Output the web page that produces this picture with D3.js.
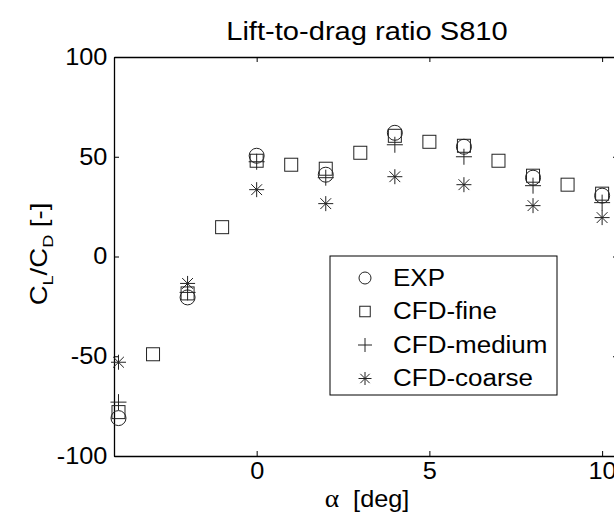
<!DOCTYPE html>
<html>
<head>
<meta charset="utf-8">
<script src="https://cdn.jsdelivr.net/npm/d3@7"></script>
<style>
  body { margin: 0; background: #fff; }
  text { font-family: "Liberation Sans", Arial, sans-serif; fill: #000; }
</style>
</head>
<body>
<div id="chart"></div>
<script>
// angles of attack
var alphaFine = [-4, -3, -2, -1, 0, 1, 2, 3, 4, 5, 6, 7, 8, 9, 10];
var alphaEven = [-4, -2, 0, 2, 4, 6, 8, 10];

// lift-to-drag ratio
var expVals    = [-81, -20.5, 50.5, 41, 62, 55, 39.5, 30.5];
var fineVals   = [-78, -49, -18.5, 14.7, 48, 46, 44, 52, 60.5, 57.5, 55.5, 48, 40.5, 36, 31.5];
var mediumVals = [-73, -18, 47.5, 39.5, 56, 50, 35.5, 27];
var coarseVals = [-53, -13.5, 33.5, 26.5, 40, 36, 25.5, 19.5];

var xTicks = [0, 5, 10];
var yTicks = [-100, -50, 0, 50, 100];
var seriesNames = ["EXP", "CFD-fine", "CFD-medium", "CFD-coarse"];

var W = 614, H = 518;
var sx = 1.1; // text looks a bit wider than normal

var svg = d3.select("#chart").append("svg")
  .attr("width", W).attr("height", H);
svg.append("rect").attr("width", W).attr("height", H).attr("fill", "#fff");

var x = d3.scaleLinear().domain([-4.13, 10.46]).range([114, 618]);
var y = d3.scaleLinear().domain([-100, 100]).range([456, 57]);

var fmt = function(d) { return String(d); };

// axes, MATLAB style ticks pointing inwards
svg.append("g").attr("transform", "translate(0," + y(-100) + ")")
  .call(d3.axisBottom(x).tickValues(xTicks).tickSizeInner(-5).tickSizeOuter(0).tickPadding(7).tickFormat(fmt));
svg.append("g").attr("transform", "translate(0," + y(100) + ")")
  .call(d3.axisTop(x).tickValues(xTicks).tickSizeInner(-5).tickSizeOuter(0).tickFormat(""));
svg.append("g").attr("transform", "translate(" + x(-4.13) + ",0)")
  .call(d3.axisLeft(y).tickValues(yTicks).tickSizeInner(-5).tickSizeOuter(0).tickPadding(6).tickFormat(fmt));
svg.append("g").attr("transform", "translate(" + x(10.46) + ",0)")
  .call(d3.axisRight(y).tickValues(yTicks).tickSizeInner(-5).tickSizeOuter(0).tickFormat(""));

svg.selectAll(".domain").attr("stroke", "#000").attr("stroke-width", 1.3);
svg.selectAll(".tick line").attr("stroke", "#000").attr("stroke-width", 1);
svg.selectAll(".tick text")
  .style("font-family", "'Liberation Sans', Arial, sans-serif")
  .attr("font-size", 23)
  .attr("fill", "#000")
  .attr("transform", "scale(" + sx + ",1)");

// marker drawing helpers
function circleM(g, r) {
  g.append("circle").attr("r", r).attr("fill", "none").attr("stroke", "#222").attr("stroke-width", 1);
}
function squareM(g, s) {
  g.append("rect").attr("x", -s / 2).attr("y", -s / 2).attr("width", s).attr("height", s)
    .attr("fill", "none").attr("stroke", "#222").attr("stroke-width", 1);
}
function plusM(g, h) {
  g.append("path").attr("d", "M" + (-h) + ",0H" + h + "M0," + (-h) + "V" + h)
    .attr("fill", "none").attr("stroke", "#222").attr("stroke-width", 1);
}
function starM(g, h) {
  var d = h * 0.72;
  g.append("path").attr("d", "M" + (-h) + ",0H" + h + "M0," + (-h) + "V" + h +
      "M" + (-d) + "," + (-d) + "L" + d + "," + d + "M" + (-d) + "," + d + "L" + d + "," + (-d))
    .attr("fill", "none").attr("stroke", "#222").attr("stroke-width", 1);
}

function drawSeries(xs, vals, fn, size) {
  svg.append("g").selectAll("g")
    .data(vals.map(function(v, i) { return {a: xs[i], v: v}; }))
    .enter().append("g")
    .attr("transform", function(d) { return "translate(" + x(d.a) + "," + y(d.v) + ")"; })
    .each(function() { fn(d3.select(this), size); });
}

drawSeries(alphaEven, expVals, circleM, 7.5);
drawSeries(alphaFine, fineVals, squareM, 13);
drawSeries(alphaEven, mediumVals, plusM, 8);
drawSeries(alphaEven, coarseVals, starM, 7.5);

// legend
var leg = svg.append("g");
leg.append("rect").attr("x", 330).attr("y", 256).attr("width", 227).attr("height", 139)
  .attr("fill", "#fff").attr("stroke", "#000").attr("stroke-width", 1);
var legFns = [[circleM, 6], [squareM, 10.5], [plusM, 7], [starM, 6.5]];
seriesNames.forEach(function(name, i) {
  var cy = 278 + i * 33.5;
  var g = leg.append("g").attr("transform", "translate(365," + cy + ")");
  legFns[i][0](g, legFns[i][1]);
  leg.append("text")
    .attr("x", 393 / 1.13).attr("y", cy + 8)
    .attr("transform", "scale(1.13,1)")
    .attr("font-size", 23)
    .text(name);
});

// title
svg.append("text")
  .attr("x", 367 / 1.12).attr("y", 40)
  .attr("transform", "scale(1.12,1)")
  .attr("text-anchor", "middle")
  .attr("font-size", 26)
  .text("Lift-to-drag ratio S810");

// x label
var xl = svg.append("text")
  .attr("x", 367 / sx).attr("y", 507)
  .attr("transform", "scale(" + sx + ",1)")
  .attr("text-anchor", "middle")
  .attr("font-size", 23);
xl.append("tspan").attr("font-size", 25).style("font-family", "'Liberation Serif', 'DejaVu Serif', serif").text("\u03b1");
xl.append("tspan").text("\u00a0\u00a0[deg]");

// y label
var yl = svg.append("text")
  .attr("transform", "translate(47,254) rotate(-90) scale(1.2,1)")
  .attr("text-anchor", "middle")
  .attr("font-size", 23);
yl.append("tspan").text("C");
yl.append("tspan").attr("font-size", 15).attr("dy", 6).text("L");
yl.append("tspan").attr("dy", -6).text("/C");
yl.append("tspan").attr("font-size", 15).attr("dy", 6).text("D");
yl.append("tspan").attr("dy", -6).text(" [-]");
</script>
</body>
</html>
